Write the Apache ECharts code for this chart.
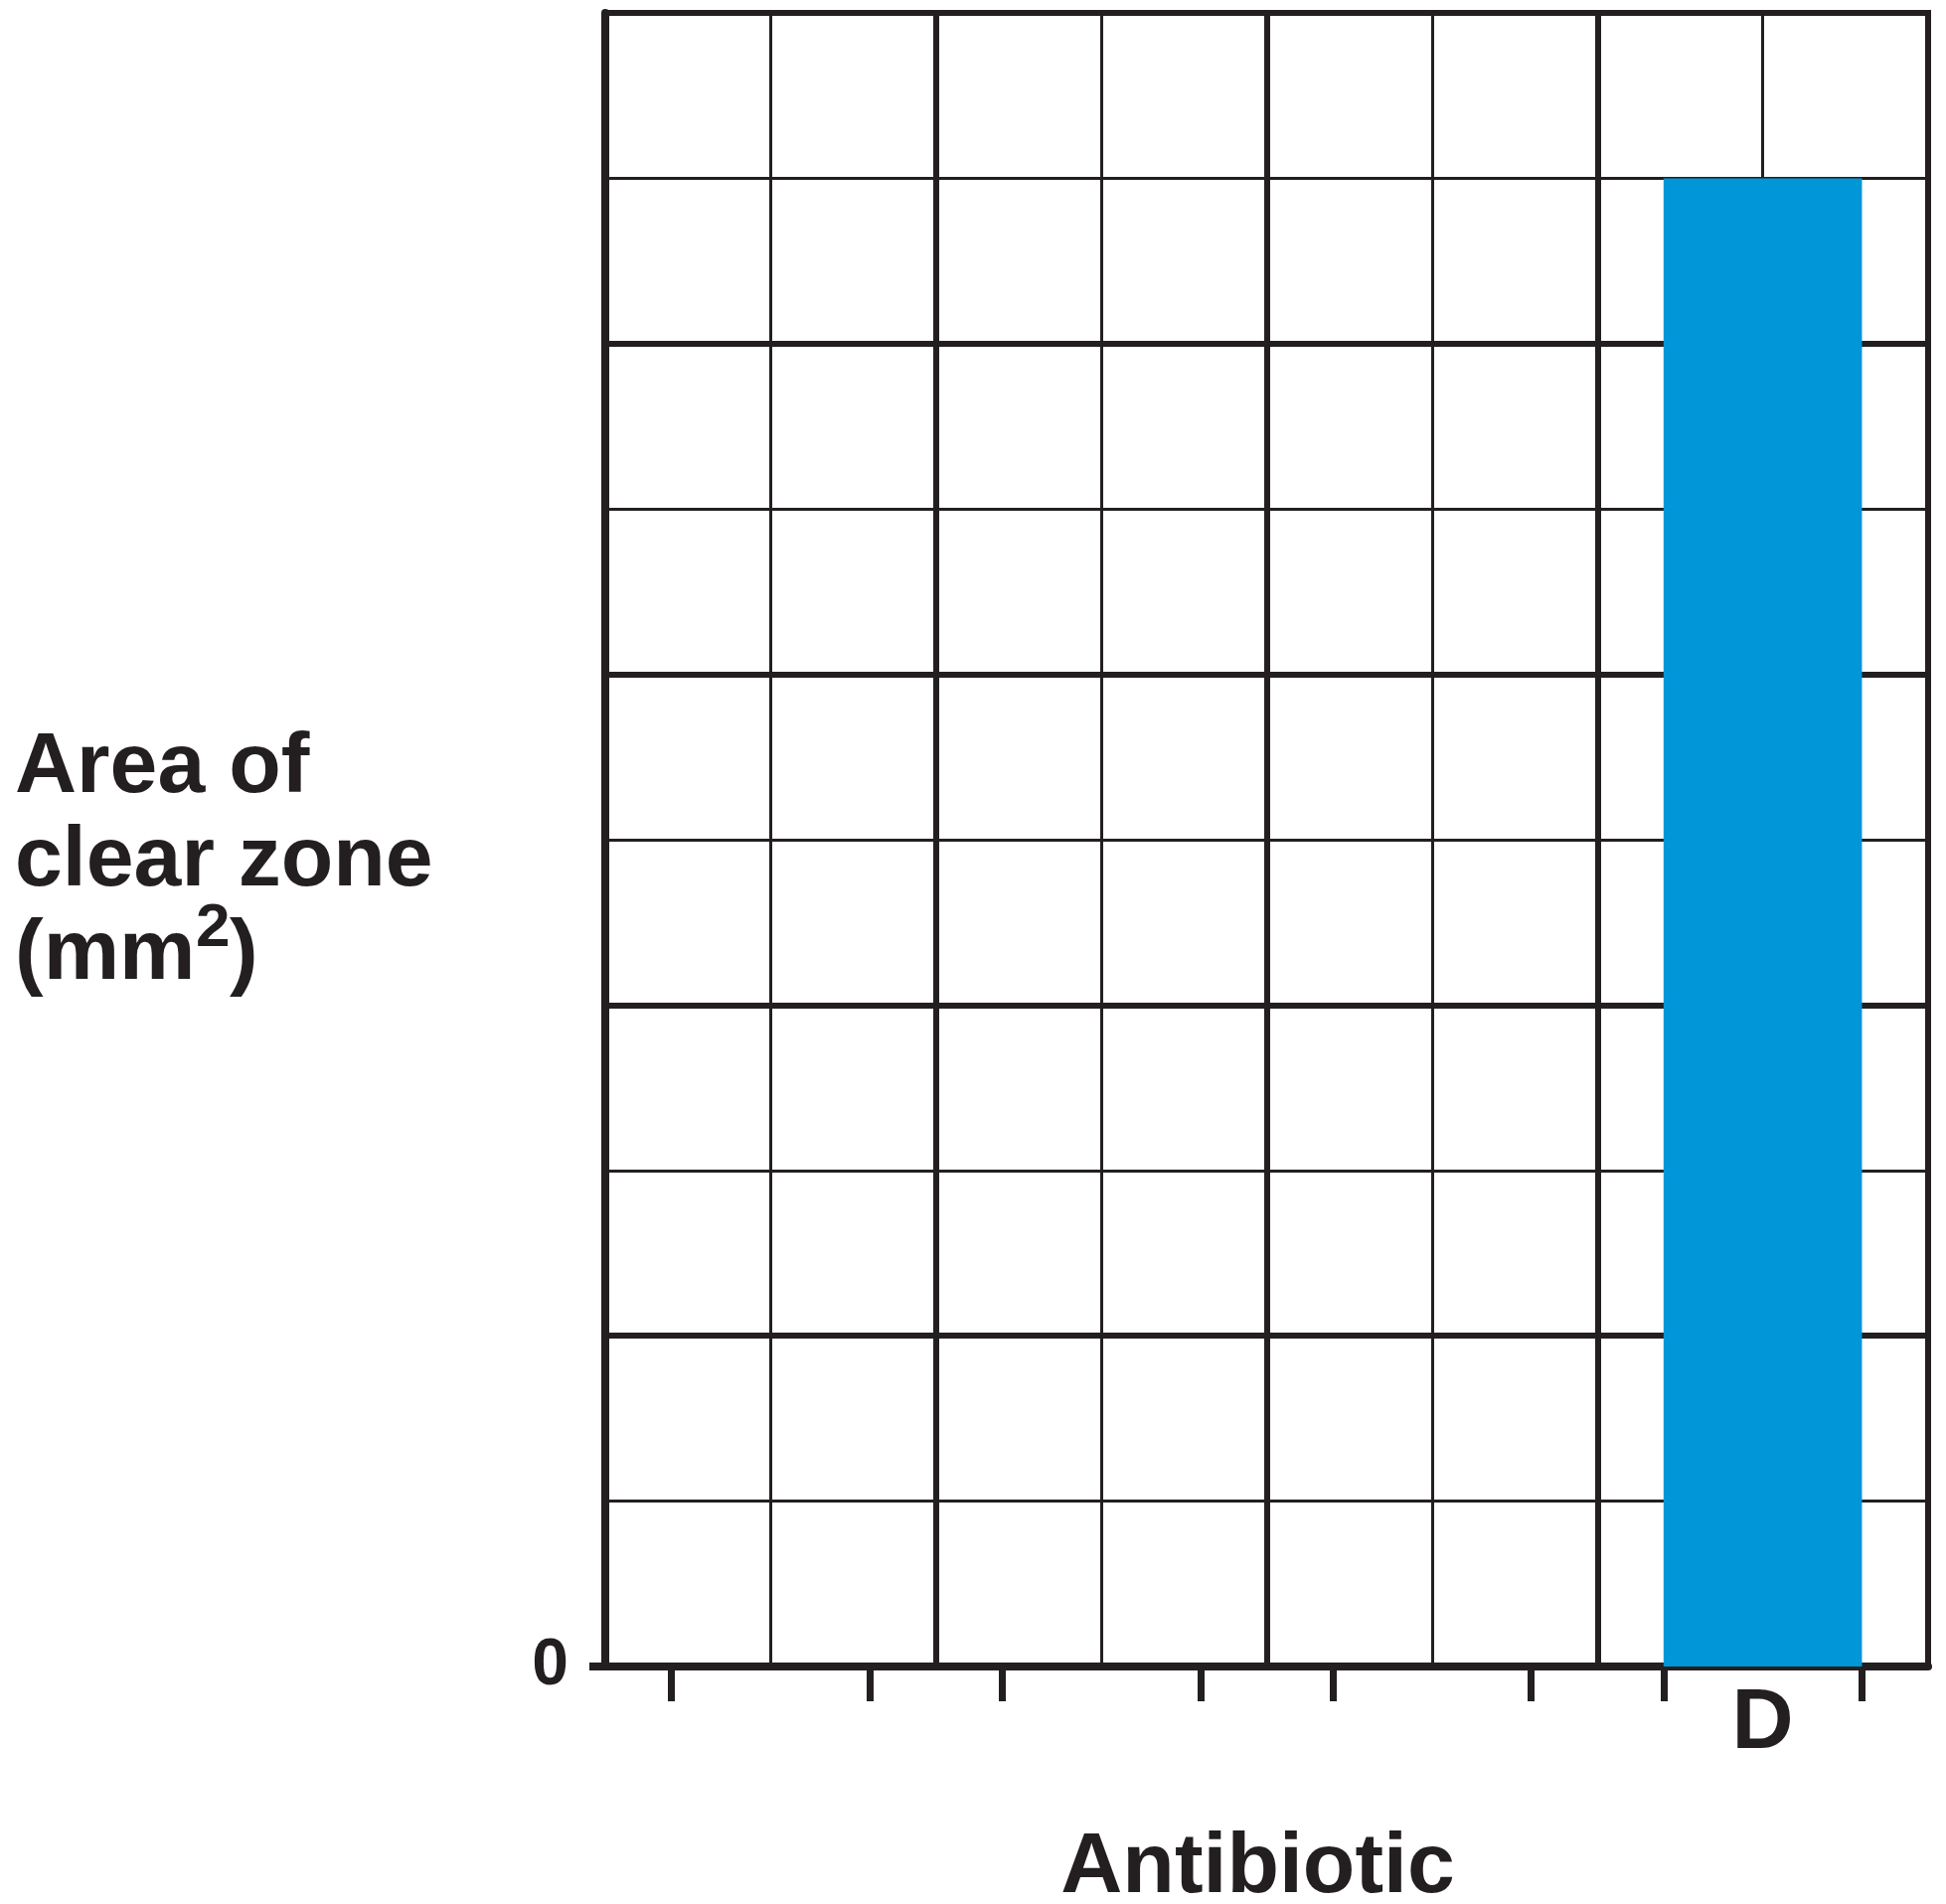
<!DOCTYPE html>
<head>
    <meta charset="utf-8">
    <title>Area of clear zone</title>
</head>
<body style="width:100%;height:100%;margin:0px;padding:0px;background:#fff;">
    <div id="main" style="width:1958px;height:1916px;margin:0px;padding:0px;"></div>
    <script src="https://cdn.jsdelivr.net/npm/echarts@6/dist/echarts.min.js"></script>
    <script type="text/javascript">
    // antibiotics along the bottom (only D is labelled in the original)
    var categories = ['', '', '', 'D'];
    // area of clear zone, in grid squares
    var areaValues = [null, null, null, 9];
    var yTickLabels = [0];
    var yMax = 10;

    var ink = '#231f20';
    var font = 'Liberation Sans, Arial, Helvetica, sans-serif';
    var barPart = 0.6;

    // small ticks sit on the edges of each bar slot
    var edgeTicks = [];
    for (var i = 0; i < categories.length; i++) {
        edgeTicks.push(i + 0.5 - barPart / 2);
        edgeTicks.push(i + 0.5 + barPart / 2);
    }

    function gridOnly(type, max, step, width) {
        return {
            type: type,
            min: 0,
            max: max,
            interval: step,
            axisLine: {show: false, onZero: false},
            axisTick: {show: false},
            axisLabel: {show: false},
            splitLine: {show: true, lineStyle: {color: ink, width: width}}
        };
    }

    var supStyle = {fontFamily: font, fontWeight: 'bold', fontSize: 62, lineHeight: 62};

    var myChart = echarts.init(document.getElementById('main'));

    var option = {
        animation: false,
        backgroundColor: '#fff',
        title: [{
            left: 15,
            top: 726,
            padding: 0,
            // the "2" is kept as a blank slot here and drawn raised by the next title
            text: '{a|Area of}\n{a|clear zone}\n{a|(mm}{s|2}{a|)}',
            textStyle: {
                rich: {
                    a: {fontFamily: font, fontWeight: 'bold', fontSize: 86, lineHeight: 94, color: ink},
                    s: Object.assign({color: 'transparent'}, supStyle)
                }
            }
        }, {
            left: 197,
            top: 904,
            padding: 0,
            text: '2',
            textStyle: Object.assign({color: ink}, supStyle)
        }],
        grid: {
            left: 609,
            right: 18,
            top: 13,
            bottom: 239,
            outerBoundsMode: 'none',
            show: true,
            borderColor: ink,
            borderWidth: 6,
            backgroundColor: 'transparent'
        },
        xAxis: [{
            type: 'category',
            data: categories,
            position: 'bottom',
            name: 'Antibiotic',
            nameLocation: 'middle',
            nameGap: 160,
            nameTextStyle: {fontFamily: font, fontWeight: 'bold', fontSize: 86, color: ink, padding: [0, 18, 0, 0]},
            axisLine: {show: true, onZero: false, lineStyle: {color: ink, width: 8}},
            axisTick: {show: false},
            axisLabel: {fontFamily: font, fontWeight: 'bold', fontSize: 86, color: ink, margin: 15},
            splitLine: {show: true, lineStyle: {color: ink, width: 6}}
        }, {
            type: 'value',
            min: 0,
            max: categories.length,
            position: 'bottom',
            axisLine: {show: false, onZero: false},
            axisTick: {show: true, customValues: edgeTicks, length: 35, lineStyle: {color: ink, width: 7}},
            axisLabel: {show: false},
            splitLine: {show: false}
        },
        Object.assign(gridOnly('value', categories.length, 0.5, 3), {position: 'bottom'})
        ],
        yAxis: [{
            type: 'value',
            min: 0,
            max: yMax,
            interval: 1,
            axisLine: {show: true, onZero: false, lineStyle: {color: ink, width: 8}},
            axisTick: {show: true, customValues: yTickLabels, length: 16, lineStyle: {color: ink, width: 8}},
            axisLabel: {customValues: yTickLabels, fontFamily: font, fontWeight: 'bold', fontSize: 66, color: ink, margin: 37},
            splitLine: {show: false}
        },
        gridOnly('value', yMax, 1, 3),
        gridOnly('value', yMax, 2, 6)
        ],
        series: [{
            type: 'bar',
            xAxisIndex: 0,
            yAxisIndex: 0,
            data: areaValues,
            barWidth: (barPart * 100) + '%',
            itemStyle: {color: '#0096d8'},
            z: 5
        }]
    };
    myChart.setOption(option);
    </script>
</body>
